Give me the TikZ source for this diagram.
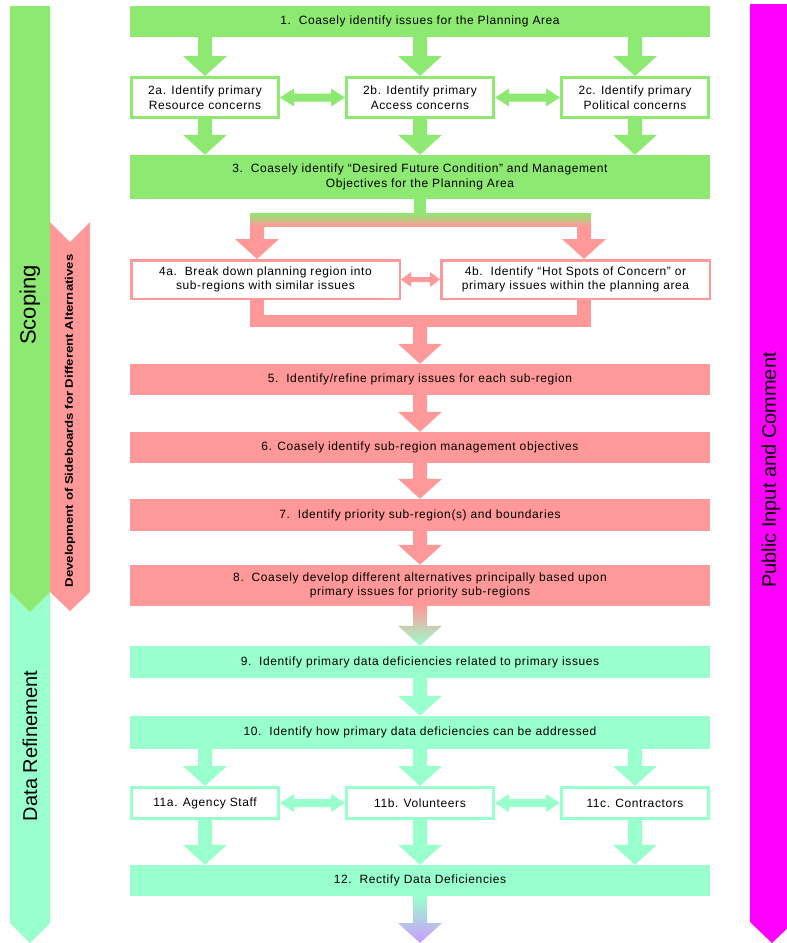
\documentclass[tikz,border=0pt]{standalone}
\usepackage{fontspec}
\setmainfont{Liberation Sans}
\newfontfamily\cellfam[LetterSpace=5]{Liberation Sans}
\usetikzlibrary{calc}

\definecolor{grn}{RGB}{141,233,113}
\definecolor{pnk}{RGB}{255,153,153}
\definecolor{aqu}{RGB}{153,255,204}
\definecolor{mag}{RGB}{255,0,255}
\definecolor{lav}{RGB}{204,153,255}

\newcommand\cellfont{\cellfam\fontsize{12}{14.5}\selectfont}

% fat downward arrow: [fill options]{column coordinate}{upper node}{lower node}
\newcommand\fatdown[4][]{%
  \path[#1] ($(#3.south -| #2)+(-7,0)$) -- ($(#3.south -| #2)+(7,0)$)
    -- ($(#4.north -| #2)+(7,-20)$) -- ($(#4.north -| #2)+(22,-20)$)
    -- (#4.north -| #2) -- ($(#4.north -| #2)+(-22,-20)$)
    -- ($(#4.north -| #2)+(-7,-20)$) -- cycle;}

% fat two-headed arrow: [fill]{left node}{right node}{shaft half}{head half}{head length}
\newcommand\fatboth[6][]{%
  \path[#1] (#2.east) -- ($(#2.east)+(#6,-#5)$) -- ($(#2.east)+(#6,-#4)$)
    -- ($(#3.west)+(-#6,-#4)$) -- ($(#3.west)+(-#6,-#5)$) -- (#3.west)
    -- ($(#3.west)+(-#6,#5)$) -- ($(#3.west)+(-#6,#4)$)
    -- ($(#2.east)+(#6,#4)$) -- ($(#2.east)+(#6,#5)$) -- cycle;}

\begin{document}
\begin{tikzpicture}[x=1pt,y=-1pt,
  solidbox/.style={rectangle, fill=#1, minimum width=580pt, inner sep=0pt,
    align=center, font=\cellfont},
  framebox/.style={rectangle, draw=#1, fill=white, line width=3pt,
    minimum width=147pt, inner sep=0pt, align=center, font=\cellfont},
  widebox/.style={rectangle, draw=#1, fill=white, line width=2.5pt,
    minimum width=268.5pt, minimum height=38.5pt, inner sep=0pt,
    align=center, font=\cellfont},
  bandtext/.style={rotate=90, font=\fontsize{20}{24}\selectfont}]

\useasboundingbox (0,0) rectangle (787,943);
\clip (0,0) rectangle (787,943);

% side bands
\fill[aqu] (10,592) -- (30,612) -- (50,592) -- (50,923) -- (30,943) -- (10,923) -- cycle;
\fill[grn] (10,6) -- (50,6) -- (50,592) -- (30,612) -- (10,592) -- cycle;
\fill[pnk] (50,222) -- (70,242) -- (90,222) -- (90,592) -- (70,611) -- (50,592) -- cycle;
\fill[mag] (750,4) -- (794,4) -- (794,922) -- (772,943) -- (750,922) -- cycle;

\node[bandtext, font=\fontsize{22}{26}\selectfont] (scoping) at (30,305) {Scoping};
\node[bandtext] (refine) at (30,746) {Data Refinement};
\node[bandtext] (public) at (771,470) {Public Input and Comment};
\node[rotate=90, font=\bfseries\fontsize{11}{13}\selectfont] (sideboards) at (70,421)
  {\scalebox{1.2}[1]{Development of Sideboards for Different Alternatives}};

% columns used by the arrows
\coordinate (cL) at (205,0);
\coordinate (cM) at (420,0);
\coordinate (cR) at (635,0);
\coordinate (qL) at (257,0);
\coordinate (qR) at (584,0);

% steps
\node[solidbox=grn, minimum height=31pt] (b1) at (420,21.5)
  {1.\ \ Coasely identify issues for the Planning Area};
\node[framebox=grn, minimum height=40pt] (b2a) at (205,97.5)
  {2a. Identify primary\\Resource concerns};
\node[framebox=grn, minimum height=40pt] (b2b) at (420,97.5)
  {2b. Identify primary\\Access concerns};
\node[framebox=grn, minimum height=40pt] (b2c) at (635,97.5)
  {2c. Identify primary\\Political concerns};
\node[solidbox=grn, minimum height=44pt] (b3) at (420,177)
  {3.\ \ Coasely identify “Desired Future Condition” and Management\\Objectives for the Planning Area};

\node[rectangle, inner sep=0pt, minimum width=341pt, minimum height=13pt,
  top color=grn, bottom color=pnk] (bar1) at (420.5,219.5) {};

\node[widebox=pnk] (b4a) at (265.5,279.5)
  {4a.\ \ Break down planning region into\\sub-regions with similar issues};
\node[widebox=pnk] (b4b) at (575.5,279.5)
  {4b.\ \ Identify “Hot Spots of Concern” or\\primary issues within the planning area};

\node[rectangle, inner sep=0pt, minimum width=341pt, minimum height=12pt,
  fill=pnk] (bar2) at (420.5,321) {};

\node[solidbox=pnk, minimum height=31pt] (b5) at (420,379.5)
  {5.\ \ Identify/refine primary issues for each sub-region};
\node[solidbox=pnk, minimum height=31pt] (b6) at (420,447.5)
  {6. Coasely identify sub-region management objectives};
\node[solidbox=pnk, minimum height=32pt] (b7) at (420,515)
  {7.\ \ Identify priority sub-region(s) and boundaries};
\node[solidbox=pnk, minimum height=41pt] (b8) at (420,585.5)
  {8.\ \ Coasely develop different alternatives principally based upon\\primary issues for priority sub-regions};

\node[solidbox=aqu, minimum height=32pt] (b9) at (420,662)
  {9.\ \ Identify primary data deficiencies related to primary issues};
\node[solidbox=aqu, minimum height=33pt] (b10) at (420,732.5)
  {10.\ \ Identify how primary data deficiencies can be addressed};
\node[framebox=aqu, minimum height=31pt] (b11a) at (205,803) {11a. Agency Staff};
\node[framebox=aqu, minimum height=31pt] (b11b) at (420,803) {11b. Volunteers};
\node[framebox=aqu, minimum height=31pt] (b11c) at (635,803) {11c. Contractors};
\node[solidbox=aqu, minimum height=31pt] (b12) at (420,880.5)
  {12.\ \ Rectify Data Deficiencies};
\node[inner sep=0pt, outer sep=0pt, minimum size=0pt] (fin) at (420,943) {};

% connectors
\fatdown[fill=grn]{cL}{b1}{b2a}
\fatdown[fill=grn]{cM}{b1}{b2b}
\fatdown[fill=grn]{cR}{b1}{b2c}
\fatdown[fill=grn]{cL}{b2a}{b3}
\fatdown[fill=grn]{cM}{b2b}{b3}
\fatdown[fill=grn]{cR}{b2c}{b3}
\fatboth[fill=grn]{b2a}{b2b}{4}{9}{14}
\fatboth[fill=grn]{b2b}{b2c}{4}{9}{14}

\fill[grn] ($(b3.south -| cM)+(-6,0)$) rectangle ($(bar1.north -| cM)+(6,0)$);
\fatdown[fill=pnk]{qL}{bar1}{b4a}
\fatdown[fill=pnk]{qR}{bar1}{b4b}
\fatboth[fill=pnk]{b4a}{b4b}{2.5}{7.5}{10}
\fill[pnk] ($(b4a.south -| qL)+(-7,0)$) rectangle ($(bar2.north -| qL)+(7,0)$);
\fill[pnk] ($(b4b.south -| qR)+(-7,0)$) rectangle ($(bar2.north -| qR)+(7,0)$);
\fatdown[fill=pnk]{cM}{bar2}{b5}
\fatdown[fill=pnk]{cM}{b5}{b6}
\fatdown[fill=pnk]{cM}{b6}{b7}
\fatdown[fill=pnk]{cM}{b7}{b8}
\fatdown[top color=pnk, bottom color=aqu]{cM}{b8}{b9}
\fatdown[fill=aqu]{cM}{b9}{b10}
\fatdown[fill=aqu]{cL}{b10}{b11a}
\fatdown[fill=aqu]{cM}{b10}{b11b}
\fatdown[fill=aqu]{cR}{b10}{b11c}
\fatboth[fill=aqu]{b11a}{b11b}{4}{9}{14}
\fatboth[fill=aqu]{b11b}{b11c}{4}{9}{14}
\fatdown[fill=aqu]{cL}{b11a}{b12}
\fatdown[fill=aqu]{cM}{b11b}{b12}
\fatdown[fill=aqu]{cR}{b11c}{b12}
\fatdown[top color=aqu, bottom color=lav]{cM}{b12}{fin}
\end{tikzpicture}
\end{document}
